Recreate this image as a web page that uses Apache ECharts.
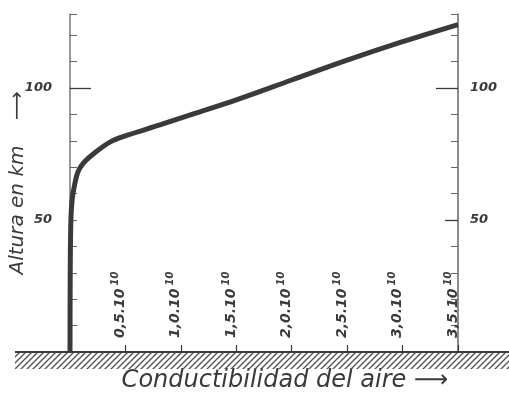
<!DOCTYPE html>
<html>
<head>
<meta charset="utf-8">
<script src="https://cdn.jsdelivr.net/npm/echarts@6/dist/echarts.min.js"></script>
<style>
  html, body { margin: 0; padding: 0; background: #fff; }
  #chart { width: 509px; height: 400px; }
</style>
</head>
<body>
<div id="chart"></div>
<script>
// conductividad (x 10^10) y altura (km)
var conductividad = [0, 0.002, 0.008, 0.02, 0.04, 0.07, 0.12, 0.21, 0.36, 0.51, 0.81, 1.1, 1.5, 2.0, 2.5, 3.0, 3.5];
var altura = [0, 30, 50, 58, 63, 68, 71.5, 75, 79.5, 82, 86, 90, 95.5, 103, 110.5, 117.5, 124];

var xTickValues = [0.5, 1.0, 1.5, 2.0, 2.5, 3.0, 3.5];
var xTickLabels = ['0,5.10', '1,0.10', '1,5.10', '2,0.10', '2,5.10', '3,0.10', '3,5.10'];
var xTickExp = '10';
var yTickValues = [50, 100];
var yTickLabels = ['50', '100'];

var ink = '#3a3a3a';
var fontFam = 'DejaVu Sans';

// trama rayada del suelo
function hatchPattern() {
  var c = document.createElement('canvas');
  c.width = 6; c.height = 6;
  var ctx = c.getContext('2d');
  ctx.strokeStyle = '#555';
  ctx.lineWidth = 1.4;
  ctx.beginPath();
  ctx.moveTo(-1, 7); ctx.lineTo(7, -1);
  ctx.moveTo(-4, 4); ctx.lineTo(4, -4);
  ctx.moveTo(2, 10); ctx.lineTo(10, 2);
  ctx.stroke();
  return c;
}

function yLabel(v) {
  var i = yTickValues.indexOf(v);
  return i >= 0 ? yTickLabels[i] : '';
}

var myChart = echarts.init(document.getElementById('chart'));

// ejes auxiliares solo para las marcas largas
function extraAxis(pos, values, len) {
  return {
    type: 'value', position: pos, min: 0, max: 128,
    axisLine: { show: false },
    axisTick: { show: true, inside: true, length: len, customValues: values, lineStyle: { color: ink, width: 1.3 } },
    axisLabel: { show: false },
    splitLine: { show: false }
  };
}

var option = {
  backgroundColor: '#fff',
  animation: false,
  grid: { left: 70, right: 51, top: 14, bottom: 48, containLabel: false, outerBoundsMode: 'none' },
  xAxis: {
    type: 'value',
    min: 0, max: 3.5, interval: 0.5,
    name: 'Conductibilidad del aire ⟶',
    nameLocation: 'middle',
    nameGap: 17,
    nameMoveOverlap: false,
    nameTextStyle: { fontFamily: fontFam, fontStyle: 'italic', fontSize: 24, color: ink, padding: [0, 0, 0, 42] },
    axisLine: { lineStyle: { color: ink, width: 2 } },
    axisTick: { inside: true, length: 7, lineStyle: { color: ink, width: 1.2 } },
    axisLabel: {
      inside: true, rotate: 90, margin: 14,
      verticalAlign: 'bottom',
      formatter: function (v) {
        var i = xTickValues.indexOf(v);
        return i >= 0 ? '{b|' + xTickLabels[i] + '}{s|' + xTickExp + '}' : '';
      },
      rich: {
        b: { fontFamily: fontFam, fontStyle: 'italic', fontSize: 14, lineHeight: 10, color: ink, fontWeight: 'bold' },
        s: { fontFamily: fontFam, fontStyle: 'italic', fontSize: 10, lineHeight: 10, color: ink, fontWeight: 'bold', padding: [0, 0, 10, 3] }
      }
    },
    splitLine: { show: false }
  },
  yAxis: [
    {
      type: 'value', position: 'left', min: 0, max: 128, interval: 10,
      name: 'Altura en km    ⟶',
      nameLocation: 'middle', nameRotate: 90, nameGap: 42,
      nameMoveOverlap: false,
      nameTextStyle: { fontFamily: fontFam, fontStyle: 'italic', fontSize: 20, color: ink },
      axisLine: { show: true, lineStyle: { color: '#777', width: 1.5 } },
      axisTick: { show: true, inside: true, length: 7, lineStyle: { color: '#666', width: 1 } },
      axisLabel: { margin: 18, fontFamily: fontFam, fontStyle: 'italic', fontWeight: 'bold', fontSize: 13, color: ink, formatter: yLabel },
      splitLine: { show: false }
    },
    {
      type: 'value', position: 'right', min: 0, max: 128, interval: 10,
      axisLine: { show: true, lineStyle: { color: '#666', width: 1.5 } },
      axisTick: { show: true, inside: true, length: 7, lineStyle: { color: '#666', width: 1 } },
      axisLabel: { margin: 12, fontFamily: fontFam, fontStyle: 'italic', fontWeight: 'bold', fontSize: 13, color: ink, formatter: yLabel },
      splitLine: { show: false }
    },
    extraAxis('left', [100], 21),
    extraAxis('right', [50], 13),
    extraAxis('right', [100], 22)
  ],
  graphic: [
    {
      type: 'rect', z: 5,
      shape: { x: 15, y: 353, width: 494, height: 16 },
      style: { fill: { image: hatchPattern(), repeat: 'repeat' } }
    },
    {
      type: 'line', z: 6,
      shape: { x1: 15, y1: 352, x2: 509, y2: 352 },
      style: { stroke: ink, lineWidth: 2 }
    }
  ],
  series: [
    {
      type: 'line',
      xAxisIndex: 0, yAxisIndex: 0,
      data: conductividad.map(function (c, i) { return [c, altura[i]]; }),
      smooth: 0.35,
      showSymbol: false,
      lineStyle: { color: ink, width: 5 },
      z: 4
    }
  ]
};
myChart.setOption(option);
</script>
</body>
</html>
